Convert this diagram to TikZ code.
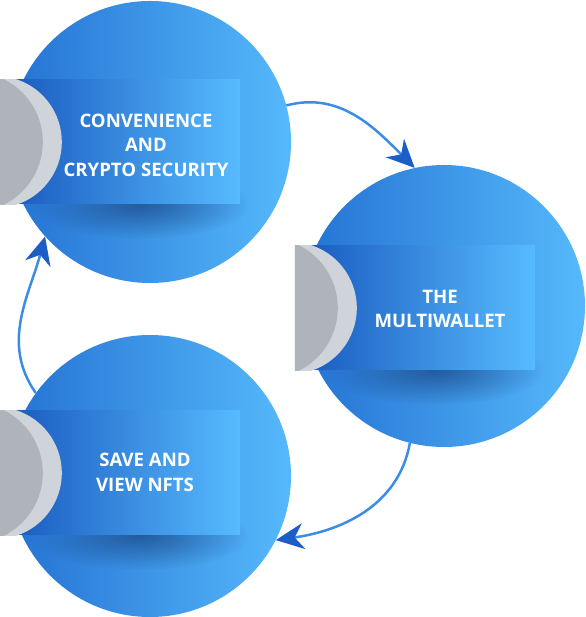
\documentclass[tikz,border=0pt]{standalone}
\usepackage{fontspec}
\setmainfont{Open Sans}
\usetikzlibrary{arrows.meta,fadings}
\definecolor{discleft}{HTML}{2472D2}
\definecolor{discright}{HTML}{56B9FC}
\definecolor{boxleft}{HTML}{1756BC}
\definecolor{boxmid}{HTML}{4C8FF5}
\definecolor{boxright}{HTML}{57BBFF}
\definecolor{greylight}{HTML}{CFD4DA}
\definecolor{greydark}{HTML}{AEB4B9}
\definecolor{linkblue}{HTML}{3A8CE4}
\definecolor{tipblue}{HTML}{1A5EC6}
\definecolor{shadowblue}{HTML}{1B4A88}
\tikzfading[name=softshadow, inner color=transparent!0, outer color=transparent!100]
\begin{document}
\begin{tikzpicture}[x=1pt, y=1pt,
    disc/.style={circle, minimum size=282pt, inner sep=0pt, left color=discleft, right color=discright},
    panel/.style={rectangle, minimum width=240pt, minimum height=124pt, inner sep=0pt, left color=boxleft, middle color=boxmid, right color=boxright},
    label/.style={text=white, align=center, font=\bfseries\fontsize{18.6}{24.5}\selectfont},
    arrow/.style={line width=2.5pt, draw=linkblue, -{Stealth[length=28pt, width=26pt, inset=9pt, color=tipblue]}}
]
    \useasboundingbox (0,0) rectangle (585,617);

    % Circles
    \node[disc] (conv) at (150,475) {};
    \node[disc] (multi) at (444,311) {};
    \node[disc] (nfts) at (150,141) {};

    % Soft shadows under the panels
    \foreach \sx/\sy in {140/412, 435/246, 140/81}
        \fill[shadowblue, opacity=0.75, path fading=softshadow] (\sx,\sy) ellipse (110pt and 34pt);

    % Panels
    \node[panel] (convbox) at (120,475) {};
    \node[panel] (multibox) at (415,309) {};
    \node[panel] (nftsbox) at (120,144) {};

    % Grey half discs
    \foreach \b in {convbox, multibox, nftsbox} {
        \begin{scope}
            \clip (\b.south west) rectangle (\b.north east);
            \fill[greylight] ([xshift=-4pt]\b.west) circle (66pt);
            \fill[greydark] ([xshift=-27pt]\b.west) circle (70pt);
        \end{scope}
    }

    % Texts
    \node[label] (convtext) at (146,472) {CONVENIENCE\\AND\\CRYPTO SECURITY};
    \node[label] (multitext) at (440,308) {THE\\MULTIWALLET};
    \node[label] (nftstext) at (145,144.5) {SAVE AND\\VIEW NFTS};

    % Arrows
    \draw[arrow] (conv.15) to[out=15, in=135] (multi.102);
    \draw[arrow] (multi.256) to[out=-100, in=8] (nfts.-27);
    \draw[arrow] (nfts.144) to[out=125, in=255] (conv.222);
\end{tikzpicture}
\end{document}
